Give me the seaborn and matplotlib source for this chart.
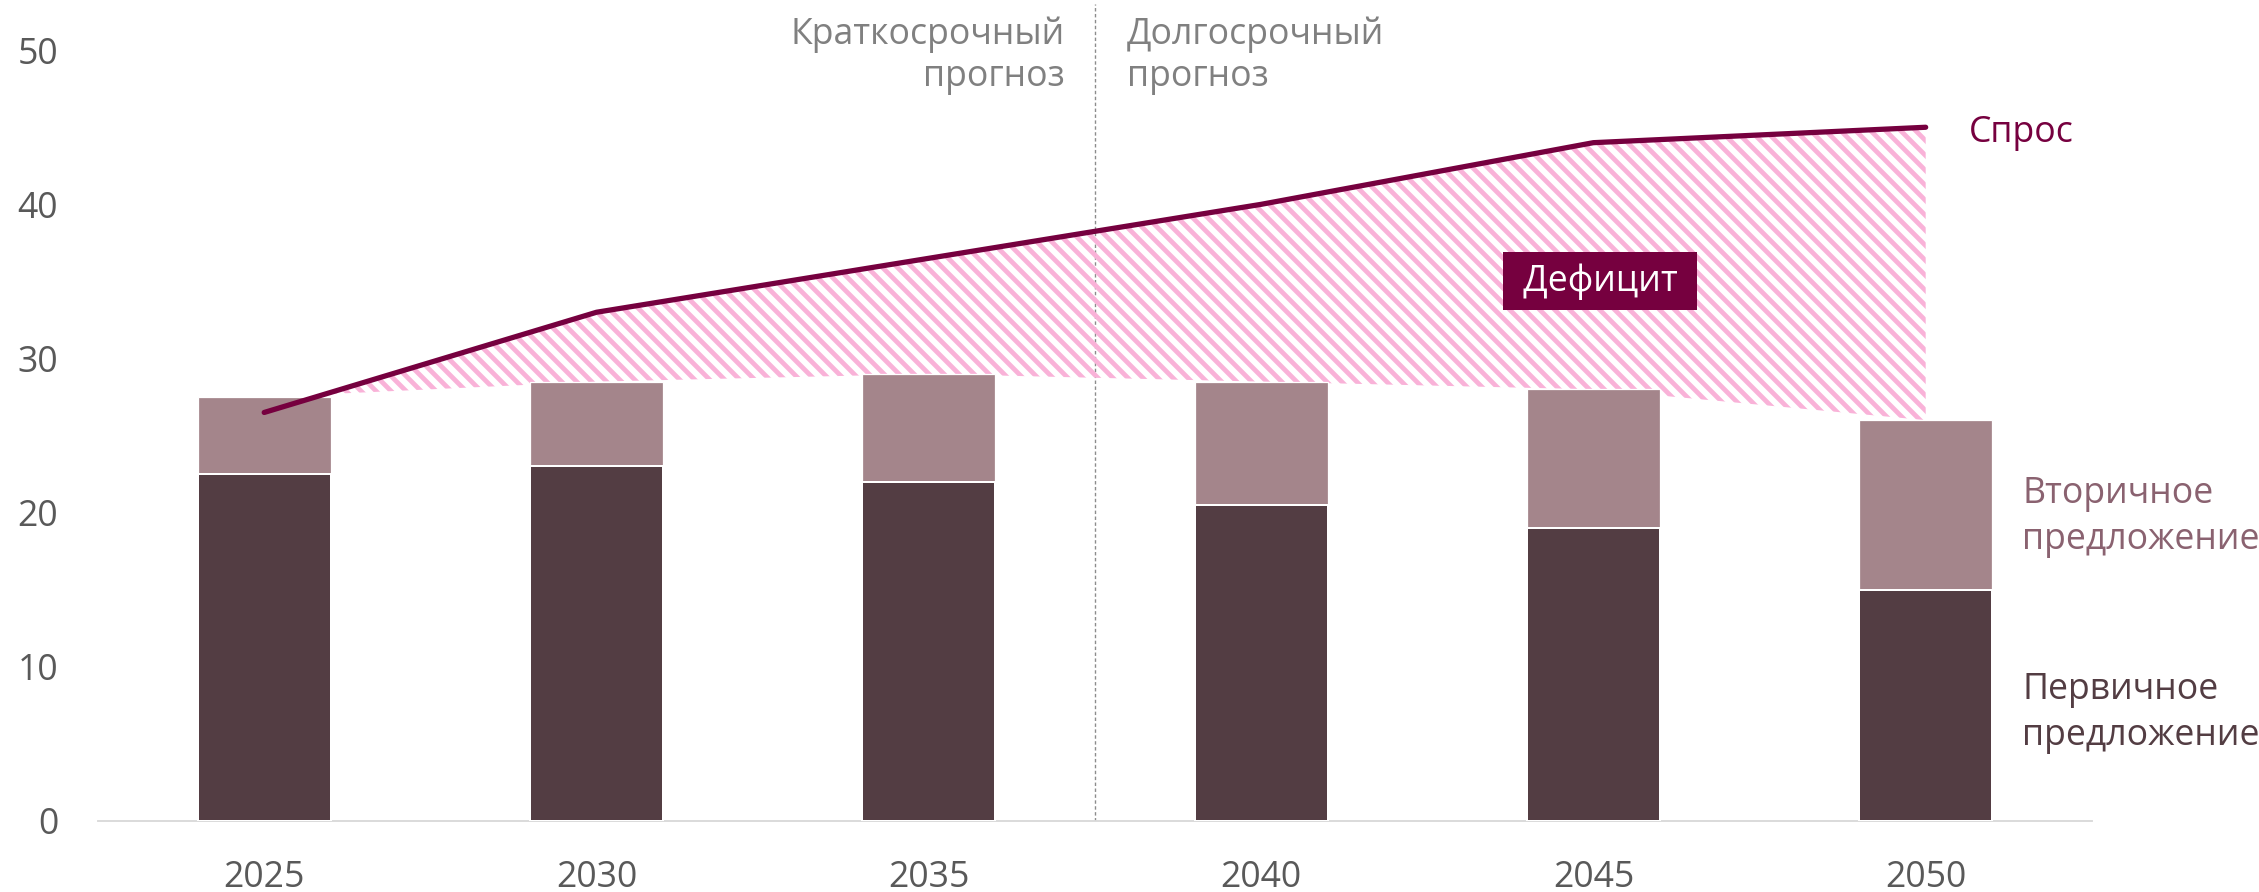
import numpy as np
import pandas as pd
import matplotlib
matplotlib.use("Agg")
import matplotlib.pyplot as plt
import seaborn as sns

# ---- data ----
years = ["2025", "2030", "2035", "2040", "2045", "2050"]
primary = [22.5, 23.0, 22.0, 20.5, 19.0, 15.0]
secondary = [5.0, 5.5, 7.0, 8.0, 9.0, 11.0]
demand = [26.5, 33.0, 36.5, 40.0, 44.0, 45.0]
yticks = [0, 10, 20, 30, 40, 50]

# ---- colours ----
prim_col = "#533D43"
sec_col = "#A4858B"
dem_col = "#76003F"
hatch_col = "#F9B2D8"
tick_col = "#595959"
note_col = "#808080"

sns.set_theme(style="white")
plt.rcParams['font.family'] = ['Open Sans', 'DejaVu Sans']
plt.rcParams['hatch.linewidth'] = 3.8
plt.rcParams['hatch.color'] = hatch_col

DPI = 90
fig = plt.figure(figsize=(2259 / DPI, 892 / DPI), dpi=DPI)
ax = fig.add_axes([0.0434, 0.0796, 0.8826, 0.916])

total = [p + s for p, s in zip(primary, secondary)]
df = pd.DataFrame({"year": years, "primary": primary, "total": total, "demand": demand})
x = np.arange(len(years))

sns.barplot(data=df, x="year", y="total", color=sec_col, width=0.4, saturation=1,
            ax=ax, zorder=2)
sns.barplot(data=df, x="year", y="primary", color=prim_col, width=0.4, saturation=1,
            edgecolor="white", linewidth=1.6, ax=ax, zorder=3)

tot = np.array(total)
dem = np.array(demand)
ax.fill_between(x, tot, dem, where=dem >= tot, interpolate=True,
                facecolor="none", edgecolor=hatch_col, hatch="\\\\", linewidth=0, zorder=1)

sns.lineplot(x=x, y=dem, color=dem_col, linewidth=4.2, ax=ax, zorder=4,
             solid_capstyle="round")

ax.axvline(2.5, color="#8C8C8C", linewidth=1.1, linestyle=(0, (2.5, 1.8)), zorder=0)

ax.set_xlim(-0.5, 5.5)
ax.set_ylim(0, 53)
ax.set_yticks(yticks)
ax.set_yticklabels([str(t) for t in yticks])
ax.set_xlabel("")
ax.set_ylabel("")
ax.tick_params(axis="y", length=0, pad=32, labelsize=28.5, labelcolor=tick_col)
ax.tick_params(axis="x", length=0, pad=31, labelsize=28.5, labelcolor=tick_col)
for s in ["left", "top", "right"]:
    ax.spines[s].set_visible(False)
ax.spines["bottom"].set_color("#D9D9D9")
ax.spines["bottom"].set_linewidth(1.5)

fs = 28.5
ax.text(2.41, 52.2, "Краткосрочный\nпрогноз", ha="right", va="top", color=note_col,
        fontsize=fs, linespacing=1.22)
ax.text(2.595, 52.2, "Долгосрочный\nпрогноз", ha="left", va="top", color=note_col,
        fontsize=fs, linespacing=1.22)
ax.text(5.13, 44.6, "Спрос", ha="left", va="center", color=dem_col, fontsize=fs)
ax.text(4.02, 35.0, " Дефицит ", ha="center", va="center", color="white", fontsize=fs,
        bbox=dict(boxstyle="square,pad=0.3", fc=dem_col, ec="none"), zorder=5)
ax.text(5.29, 19.7, "Вторичное\nпредложение", ha="left", va="center", color="#8A6270",
        fontsize=fs, linespacing=1.37)
ax.text(5.29, 7.0, "Первичное\nпредложение", ha="left", va="center", color=prim_col,
        fontsize=fs, linespacing=1.37)

fig.savefig("out.png", dpi=DPI)
